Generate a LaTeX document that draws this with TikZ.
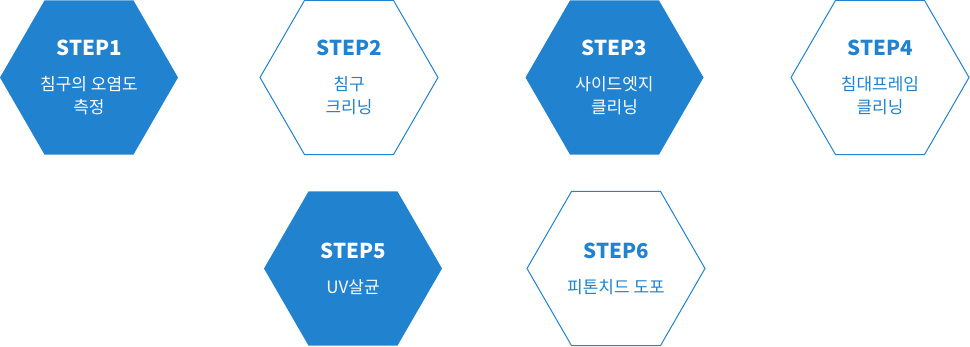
\documentclass[tikz,border=0pt]{standalone}
\usepackage{fontspec}
\setmainfont{Noto Sans CJK KR}
\usepackage{xcolor}
\usepackage{tikz}
\usetikzlibrary{shapes.geometric}

\definecolor{stepblue}{RGB}{33,130,208}
\newcommand{\steptitle}[1]{{\fontsize{20.5}{20.5}\selectfont\bfseries #1}}

\begin{document}
\begin{tikzpicture}[
    x=1pt, y=-1pt,
    hexa/.style={regular polygon, regular polygon sides=6, minimum size=178pt, inner sep=0pt, outer sep=0pt, align=center, font=\fontsize{17}{23}\selectfont},
    solid step/.style={hexa, fill=stepblue, text=white},
    open step/.style={hexa, draw=stepblue, line width=1pt, fill=white, text=stepblue}
]
    \useasboundingbox (0,0) rectangle (970,346);

    % Upper row
    \node[solid step] (step1) at (89,77.5) {\steptitle{STEP1}\\[12pt] 침구의 오염도\\측정};
    \node[open step] (step2) at (349,77.5) {\steptitle{STEP2}\\[12pt] 침구\\크리닝};
    \node[solid step] (step3) at (614.5,77.5) {\steptitle{STEP3}\\[12pt] 사이드엣지\\클리닝};
    \node[open step] (step4) at (880,77.5) {\steptitle{STEP4}\\[12pt] 침대프레임\\클리닝};

    % Lower row
    \node[solid step] (step5) at (353,268.5) {\steptitle{STEP5}\\[12pt] UV살균};
    \node[open step] (step6) at (616,268.5) {\steptitle{STEP6}\\[12pt] 피톤치드 도포};
\end{tikzpicture}
\end{document}
